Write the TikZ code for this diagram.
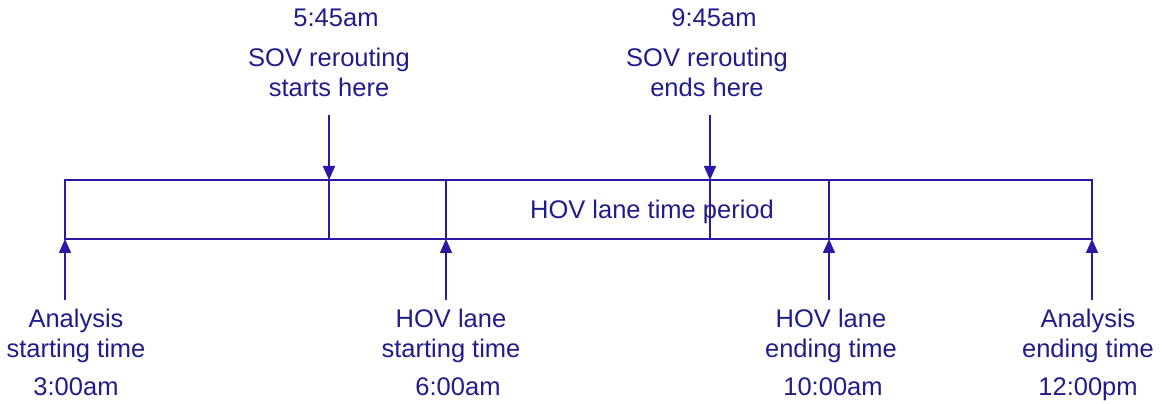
\documentclass[tikz,border=0pt]{standalone}
\usepackage{fontspec}
\setmainfont{Liberation Sans}
\usetikzlibrary{arrows.meta}
\definecolor{txtblue}{RGB}{32,28,140}
\definecolor{lineblue}{RGB}{44,24,164}
\begin{document}
\begin{tikzpicture}[x=1pt,y=1pt,
  lbl/.style={text=txtblue,font=\fontsize{25.5}{30}\selectfont,align=center,inner sep=0pt,anchor=base},
  frame/.style={draw=lineblue,line width=1.6pt},
  arr/.style={draw=lineblue,line width=1.6pt,-{Triangle[length=14pt,width=12pt]}}]
\useasboundingbox (0,0) rectangle (1164,404);
% timeline box
\coordinate (tl) at (65,224);
\coordinate (br) at (1092,165);
\draw[frame] (tl) rectangle (br);
% tick points on the box
\coordinate (a0) at (65,165);
\coordinate (a1) at (446,165);
\coordinate (a2) at (829,165);
\coordinate (a3) at (1092,165);
\coordinate (b1) at (329,224);
\coordinate (b2) at (710,224);
\coordinate (b1b) at (329,165);
\coordinate (b2b) at (710,165);
\coordinate (a1t) at (446,224);
\coordinate (a2t) at (829,224);
% dividers
\draw[frame] (b1) -- (b1b);
\draw[frame] (a1t) -- (a1);
\draw[frame] (b2) -- (b2b);
\draw[frame] (a2t) -- (a2);
% label inside
\node[lbl] (hov) at (652,185) {HOV lane time period};
% top labels
\node[lbl] (t1time) at (336,377) {5:45am};
\node[lbl] (t1) at (329,307) {SOV rerouting\\starts here};
\node[lbl] (t2time) at (714,377) {9:45am};
\node[lbl] (t2) at (707,307) {SOV rerouting\\ends here};
\coordinate (s1) at (329,289);
\coordinate (s2) at (710,289);
\draw[arr] (s1) -- (b1);
\draw[arr] (s2) -- (b2);
% bottom labels
\coordinate (u0) at (65,104);
\coordinate (u1) at (446,104);
\coordinate (u2) at (829,104);
\coordinate (u3) at (1092,104);
\draw[arr] (u0) -- (a0);
\draw[arr] (u1) -- (a1);
\draw[arr] (u2) -- (a2);
\draw[arr] (u3) -- (a3);
\node[lbl] (l0) at (76,46) {Analysis\\starting time};
\node[lbl] (l0t) at (76,9) {3:00am};
\node[lbl] (l1) at (451,46) {HOV lane\\starting time};
\node[lbl] (l1t) at (458,9) {6:00am};
\node[lbl] (l2) at (831,46) {HOV lane\\ending time};
\node[lbl] (l2t) at (833,9) {10:00am};
\node[lbl] (l3) at (1088,46) {Analysis\\ending time};
\node[lbl] (l3t) at (1088,9) {12:00pm};
\end{tikzpicture}
\end{document}
